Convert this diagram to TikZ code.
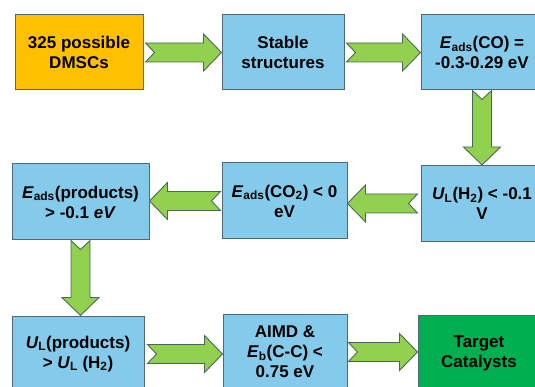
\documentclass[tikz,border=0pt]{standalone}
\usepackage{fontspec}
\setmainfont{Liberation Sans}
\usetikzlibrary{calc}

\definecolor{boxblue}{HTML}{84CAEA}
\definecolor{boxorange}{HTML}{FFC000}
\definecolor{boxgreen}{HTML}{00B050}
\definecolor{boxedge}{HTML}{50677A}
\definecolor{arrowfill}{HTML}{92D050}
\definecolor{arrowedge}{HTML}{4C6658}

\tikzset{
  x=1pt, y=-1pt,
  stagebox/.style={draw=boxedge, line width=1pt, fill=boxblue, align=center,
    inner sep=0pt, font=\fontsize{17}{20}\selectfont\bfseries},
  flowarrow/.style={draw=arrowedge, line width=0.9pt, fill=arrowfill, line join=miter},
}

% block arrow with a notched tail, from tail centre #1 to tip #2
\newcommand{\flowarrow}[2]{%
  \draw[flowarrow]
    ($(#1)!9.5pt!90:(#2)$)
    -- ($(#2)!18pt!(#1)!9.5pt!-90:(#1)$)
    -- ($(#2)!18pt!(#1)!18.5pt!-90:(#1)$)
    -- (#2)
    -- ($(#2)!18pt!(#1)!18.5pt!90:(#1)$)
    -- ($(#2)!18pt!(#1)!9.5pt!90:(#1)$)
    -- ($(#1)!9.5pt!-90:(#2)$)
    -- ($(#1)!9pt!(#2)$)
    -- cycle;}

\newcommand{\Eads}{\textit{E}\textsubscript{ads}}
\newcommand{\UL}{\textit{U}\textsubscript{L}}

\begin{document}
\begin{tikzpicture}
\useasboundingbox (0,0) rectangle (535,387);
\fill[white] (0,0) rectangle (535,387);
\clip (0,0) rectangle (535,387);

% first row
\node[stagebox, fill=boxorange, minimum width=128pt, minimum height=75pt] (b1) at (79,52.5)
  {325 possible\\DMSCs};
\node[stagebox, minimum width=122pt, minimum height=75pt] (b2) at (283,52.5)
  {Stable\\structures};
\node[stagebox, minimum width=122pt, minimum height=75pt] (b3) at (482,52.5)
  {\Eads(CO) =\\-0.3-0.29 eV};

% second row
\node[stagebox, minimum width=137pt, minimum height=76pt] (b4) at (80.5,202)
  {\Eads(products)\\> -0.1 \textit{eV}};
\node[stagebox, minimum width=125pt, minimum height=76pt] (b5) at (284.5,201)
  {\Eads(CO\textsubscript{2}) < 0\\eV};
\node[stagebox, minimum width=122pt, minimum height=76pt] (b6) at (482,203.5)
  {\UL(H\textsubscript{2}) < -0.1\\V};

% third row
\node[stagebox, minimum width=132pt, minimum height=76pt] (b7) at (78,354)
  {\UL(products)\\> \UL\ (H\textsubscript{2})};
\node[stagebox, minimum width=124pt, minimum height=76pt] (b8) at (285,352)
  {AIMD \&\\\textit{E}\textsubscript{b}(C-C) <\\0.75 eV};
\node[stagebox, fill=boxgreen, minimum width=122pt, minimum height=76pt] (b9) at (479,353)
  {Target\\Catalysts};

% tail points of the connectors
\coordinate (t1) at ($(b1.east)+(2,0)$);
\coordinate (t2) at ($(b2.east)+(2,0)$);
\coordinate (t3) at (b3.south);
\coordinate (t4) at ($(b6.west)+(-3,0)$);
\coordinate (t5) at ($(b5.west)+(-1,0)$);
\coordinate (t6) at (b4.south);
\coordinate (t7) at ($(b7.east)+(3,0)$);
\coordinate (t8) at ($(b8.east)+(1,0)$);
\coordinate (h4) at (b5.east |- t4);
\coordinate (h5) at (b4.east |- t5);
\coordinate (h6) at (t6 |- b7.north);
\coordinate (h7) at (b8.west |- t7);
\coordinate (h8) at (b9.west |- t8);

\flowarrow{t1}{b2.west}
\flowarrow{t2}{b3.west}
\flowarrow{t3}{b6.north}
\flowarrow{t4}{h4}
\flowarrow{t5}{h5}
\flowarrow{t6}{h6}
\flowarrow{t7}{h7}
\flowarrow{t8}{h8}
\end{tikzpicture}
\end{document}
